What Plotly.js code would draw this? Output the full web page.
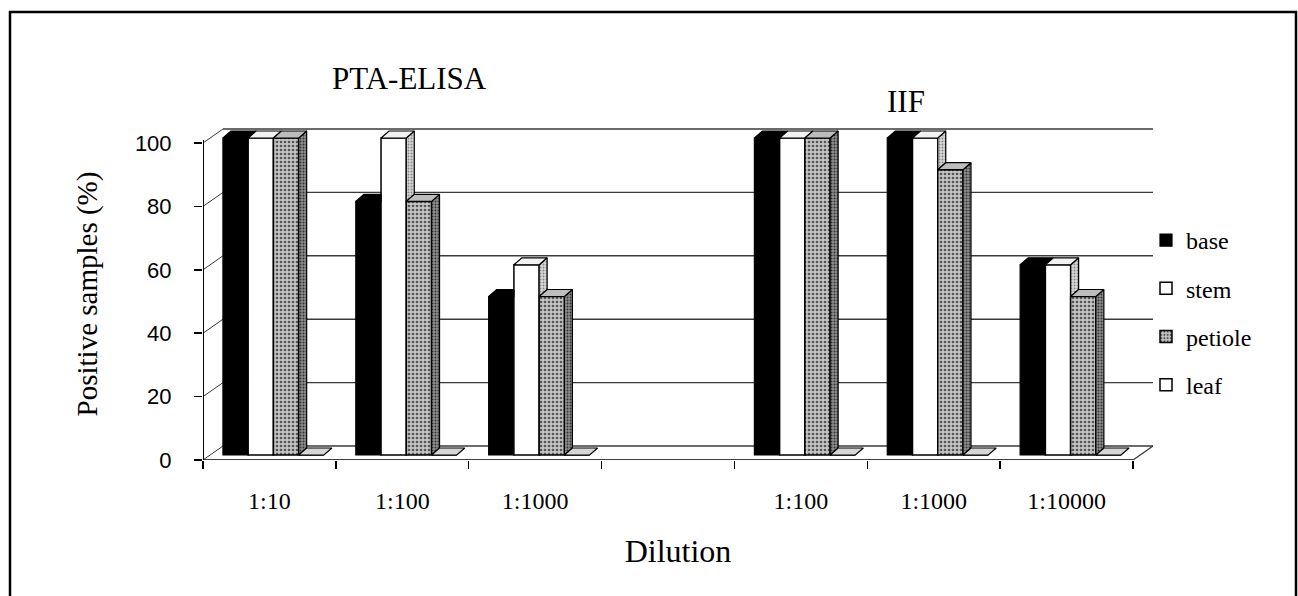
<!DOCTYPE html>
<html>
<head>
<meta charset="utf-8">
<script src="https://cdn.plot.ly/plotly-3.0.1.min.js"></script>
<style>html,body{margin:0;padding:0;background:#fff;}#chart{width:1298px;height:596px;}</style>
</head>
<body>
<div id="chart"></div>
<script>
// ---- data ----
const dilutions = ['1:10', '1:100', '1:1000', '1:100', '1:1000', '1:10000'];
const methods = ['PTA-ELISA', 'IIF'];
const seriesNames = ['base', 'stem', 'petiole', 'leaf'];
const base = [100, 80, 50, 100, 100, 60];
const stem = [100, 100, 60, 100, 100, 60];
const petiole = [100, 80, 50, 100, 90, 50];
const leaf = [0, 0, 0, 0, 0, 0];
const yTicks = [0, 20, 40, 60, 80, 100];

// ---- layout geometry ----
const W = 1298, H = 596;
const M = {l: 203, r: 145, t: 128, b: 136};
const XR = [-0.5, 6.65], YR = [0, 104.73];
const pw = W - M.l - M.r, ph = H - M.t - M.b;
const pxX = pw / (XR[1] - XR[0]);
const pxY = ph / (YR[1] - YR[0]);
const ux = p => p / pxX, uy = p => p / pxY;
const paperX = px => (px - M.l) / pw;
const paperY = py => (H - M.b - py) / ph;

// slot of each dilution (gap slot between the two methods)
const slot = dilutions.map((d, i) => i < 3 ? i : i + 1);
const vals = [base, stem, petiole, leaf];
const barOff = [-0.255, -0.065, 0.125, 0.315];
const barW = 0.19;
const B = uy(5);           // bars sit slightly back from front edge
const bdx = ux(8), bdy = uy(7);   // bar depth
const wdx = ux(20), wdy = uy(14); // wall depth

const frontStyle = [
  {color: '#000000', line: {color: '#000', width: 1.2}},
  {color: '#ffffff', line: {color: '#000', width: 1.5}},
  {color: '#b8b8b8', line: {color: '#000', width: 1.5}, pattern: {shape: '.', bgcolor: '#c4c4c4', fgcolor: '#555', size: 4, solidity: 0.35}},
  {color: '#ffffff', line: {color: '#000', width: 1.5, dash: 'dot'}}
];
const topFill = ['#000000', '#f2f2f2', '#bdbdbd', '#d6d6d6'];
const sideFill = ['#000000', '#cfcfcf', '#8c8c8c', '#bbbbbb'];
const sidePattern = [null, {shape: '.', bgcolor: '#d8d8d8', fgcolor: '#888', size: 3, solidity: 0.3},
  {shape: '.', bgcolor: '#8e8e8e', fgcolor: '#333', size: 3, solidity: 0.35}, null];

const traces = [];
const faceTraces = [];
seriesNames.forEach((name, s) => {
  const xs = slot.map(p => p + barOff[s]);
  traces.push({
    type: 'bar', name: name, x: xs, y: vals[s], base: slot.map(() => B),
    width: barW, marker: frontStyle[s], legendgroup: name, hoverinfo: 'skip'
  });
  const tx = [], ty = [], sx = [], sy = [];
  slot.forEach((p, i) => {
    const xl = p + barOff[s] - barW / 2, xr = p + barOff[s] + barW / 2;
    const top = B + vals[s][i];
    const nextTop = s < 3 ? B + vals[s + 1][i] : B;
    if (s < 3 && nextTop > top) {
      tx.push(xl, xr, xr, xl + bdx, xl, null);
      ty.push(top, top, top + bdy, top + bdy, top, null);
    } else {
      tx.push(xl, xr, xr + bdx, xl + bdx, xl, null);
      ty.push(top, top, top + bdy, top + bdy, top, null);
    }
    if (nextTop < top) {
      sx.push(xr, xr + bdx, xr + bdx, xr, xr, null);
      sy.push(nextTop, nextTop + bdy, top + bdy, top, nextTop, null);
    }
  });
  const sideT = {type: 'scatter', mode: 'lines', x: sx, y: sy, fill: 'toself', fillcolor: sideFill[s],
    line: {color: '#000', width: 1.2}, showlegend: false, hoverinfo: 'skip'};
  if (sidePattern[s]) sideT.fillpattern = sidePattern[s];
  faceTraces.push(sideT);
  faceTraces.push({type: 'scatter', mode: 'lines', x: tx, y: ty, fill: 'toself', fillcolor: topFill[s],
    line: {color: '#000', width: 1.2}, showlegend: false, hoverinfo: 'skip'});
});

// ---- wall, floor, frame ----
const shapes = [];
const gridColor = '#3a3a3a';
yTicks.forEach(v => {
  shapes.push({type: 'line', xref: 'x', yref: 'y', x0: XR[0] + wdx, x1: XR[1], y0: v + wdy, y1: v + wdy,
    line: {color: gridColor, width: 1.4}, layer: 'below'});
  shapes.push({type: 'line', xref: 'x', yref: 'y', x0: XR[0], x1: XR[0] + wdx, y0: v, y1: v + wdy,
    line: {color: gridColor, width: 1}, layer: 'below'});
});
shapes.push({type: 'line', xref: 'x', yref: 'y', x0: XR[0], x1: XR[0], y0: 0, y1: 100 + uy(3),
  line: {color: '#000', width: 2}, layer: 'above'});
shapes.push({type: 'line', xref: 'x', yref: 'y', x0: XR[0], x1: 6.5, y0: 0, y1: 0,
  line: {color: '#000', width: 1.5}, layer: 'below'});
shapes.push({type: 'line', xref: 'x', yref: 'y', x0: 6.5, x1: 6.5 + wdx, y0: 0, y1: wdy,
  line: {color: '#333', width: 1.2}, layer: 'below'});
shapes.push({type: 'rect', xref: 'paper', yref: 'paper', x0: paperX(10), x1: paperX(1296), y0: paperY(620), y1: paperY(12),
  line: {color: '#000', width: 2.5}, fillcolor: 'rgba(0,0,0,0)', layer: 'below'});

const serif = "'Liberation Serif', 'Times New Roman', serif";
const sans = "'Liberation Sans', Arial, sans-serif";
const layout = {
  width: W, height: H, margin: M,
  paper_bgcolor: '#fff', plot_bgcolor: 'rgba(0,0,0,0)',
  barmode: 'overlay', showlegend: true,
  xaxis: {
    range: XR, showgrid: false, zeroline: false, showline: false,
    tickmode: 'array', tickvals: slot, ticktext: dilutions, ticks: '',
    ticklabelstandoff: 24,
    tickfont: {family: serif, size: 24, color: '#000'},
    minor: {tickmode: 'linear', tick0: -0.5, dtick: 1, ticks: 'outside', ticklen: 8, tickwidth: 1.5, tickcolor: '#000', showgrid: false},
    title: {text: 'Dilution', font: {family: serif, size: 32, color: '#000'}, standoff: 26}
  },
  yaxis: {
    range: YR, showgrid: false, zeroline: false, showline: false,
    tickmode: 'array', tickvals: yTicks, ticks: 'outside', ticklen: 8, tickwidth: 1.5, tickcolor: '#000',
    ticklabelstandoff: 18,
    tickfont: {family: sans, size: 22, color: '#000'},
    title: {text: 'Positive samples (%)', font: {family: serif, size: 29, color: '#000'}, standoff: 28}
  },
  legend: {
    x: paperX(1146), xanchor: 'left', y: paperY(218), yanchor: 'top',
    font: {family: serif, size: 24, color: '#000'}, bgcolor: 'rgba(0,0,0,0)',
    tracegroupgap: 14, traceorder: 'grouped'
  },
  annotations: [
    {xref: 'paper', yref: 'paper', x: paperX(409), y: paperY(79), text: methods[0], showarrow: false,
      font: {family: serif, size: 31, color: '#000'}, xanchor: 'center', yanchor: 'middle'},
    {xref: 'paper', yref: 'paper', x: paperX(906), y: paperY(101), text: methods[1], showarrow: false,
      font: {family: serif, size: 31, color: '#000'}, xanchor: 'center', yanchor: 'middle'}
  ],
  shapes: shapes
};

Plotly.newPlot('chart', traces.concat(faceTraces), layout, {displayModeBar: false, staticPlot: true});
</script>
</body>
</html>
